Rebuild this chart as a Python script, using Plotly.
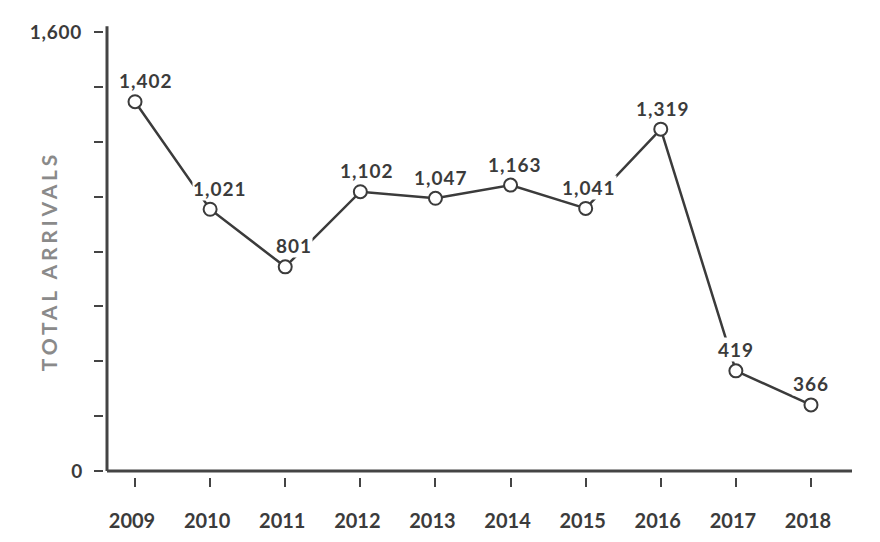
import plotly.graph_objects as go

# years on the x axis
years = [2009, 2010, 2011, 2012, 2013, 2014, 2015, 2016, 2017, 2018]
# where the markers sit on the y scale
plotted = [1346, 954, 744, 1018, 994, 1042, 957, 1246, 365, 241]
# numbers printed above each marker
labels = [1402, 1021, 801, 1102, 1047, 1163, 1041, 1319, 419, 366]

y_ticks = [0, 200, 400, 600, 800, 1000, 1200, 1400, 1600]

dark = "#3b3b3b"
axis_col = "#444444"


def spaced(txt, px):
    return f'<span style="letter-spacing:{px}px">{txt}</span>'


fig = go.Figure()

fig.add_trace(go.Scatter(
    x=years, y=plotted, mode="lines+markers",
    line=dict(color=dark, width=2.5),
    marker=dict(symbol="circle", size=13, color="white",
                line=dict(color=dark, width=2)),
    hoverinfo="skip", showlegend=False,
))

# value labels above the points, white background hides the line behind them
for i, (yr, yv, lab) in enumerate(zip(years, plotted, labels)):
    fig.add_annotation(
        x=yr, y=yv, text=spaced(f"{lab:,}", 1), showarrow=False,
        xshift=max(0, 11 - 1.3 * i), yshift=21, yanchor="middle",
        bgcolor="white", borderpad=0,
        font=dict(family="Lato", size=19, color=dark, weight=700),
    )

# axis title
fig.add_annotation(
    x=-0.0734, y=0.485, xref="paper", yref="paper",
    text=spaced("TOTAL ARRIVALS", 3.8),
    textangle=-90, showarrow=False, xanchor="center", yanchor="middle",
    font=dict(family="Lato", size=21, color="#8a8a8a", weight=700),
)

# axis lines drawn separately so the ticks can float off them
fig.add_shape(type="line", xref="x domain", yref="y domain",
              x0=0, x1=0, y0=0, y1=1.013,
              line=dict(color=axis_col, width=3))
fig.add_shape(type="line", xref="x domain", yref="y domain",
              x0=0, x1=1, y0=0, y1=0,
              line=dict(color=axis_col, width=3))

fig.update_xaxes(
    domain=[4 / 749, 1], anchor="free", position=0,
    range=[2008.627, 2018.546],
    tickvals=years, ticktext=[str(y) for y in years],
    ticks="outside", ticklen=9, tickwidth=2, tickcolor=axis_col,
    ticklabelstandoff=17, ticklabelshift=-3,
    showline=False, showgrid=False, zeroline=False,
    tickfont=dict(family="Lato", size=20, color=dark, weight=700),
)
fig.update_yaxes(
    domain=[6 / 445, 1], anchor="free", position=0,
    range=[0, 1600],
    tickvals=y_ticks,
    ticktext=["0" if v == 0 else (spaced(f"{v:,}", 0.8) if v == 1600 else "")
              for v in y_ticks],
    ticks="outside", ticklen=9, tickwidth=2, tickcolor=axis_col,
    ticklabelstandoff=8,
    showline=False, showgrid=False, zeroline=False,
    tickfont=dict(family="Lato", size=19, color=dark, weight=700),
)

# page body adds an 8px offset, so margins are trimmed by that much
fig.update_layout(
    width=880, height=542,
    margin=dict(l=95, r=36, t=24, b=73),
    plot_bgcolor="white", paper_bgcolor="white",
)

fig.write_html("out.html")
